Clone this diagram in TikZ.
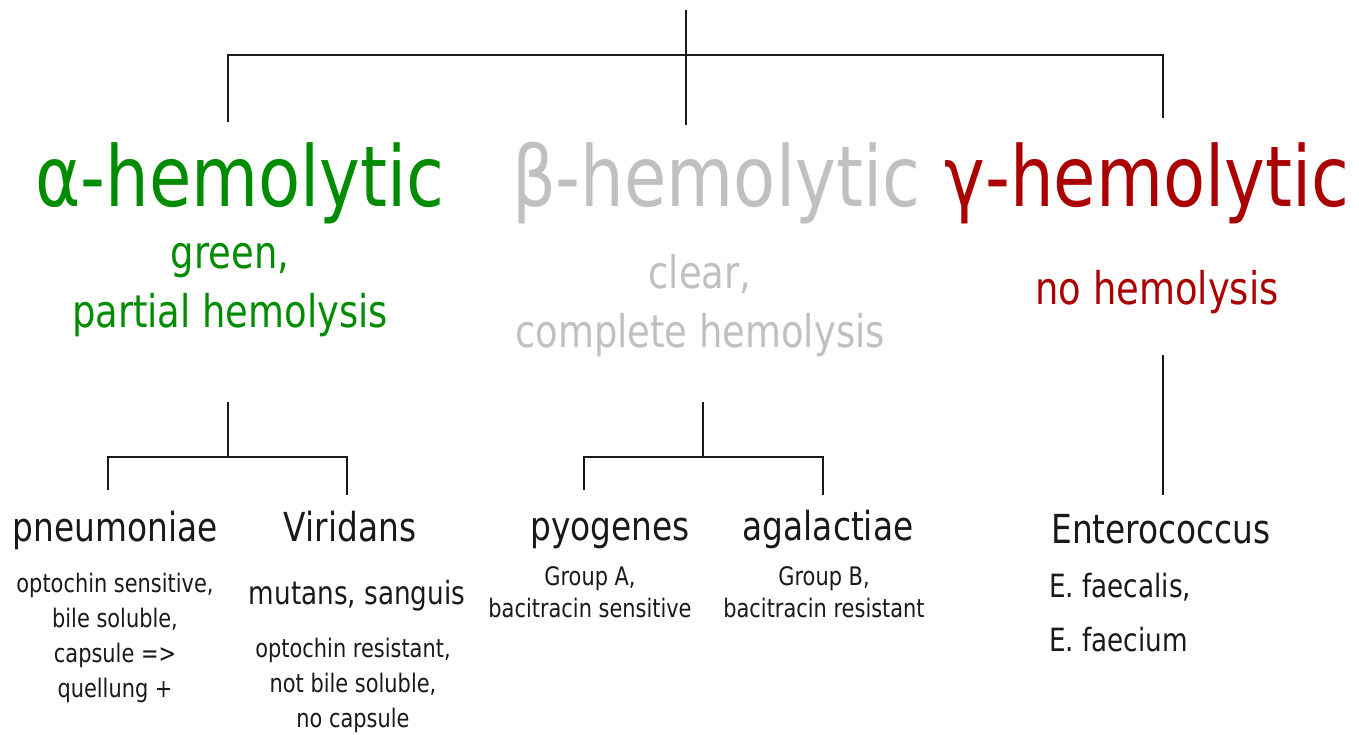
\documentclass[tikz,border=0pt]{standalone}
\usepackage{fontspec}
\setmainfont{DejaVu Sans}[FakeStretch=0.82]
\usepackage{xcolor}
\definecolor{alphagreen}{RGB}{0,140,0}
\definecolor{betagray}{RGB}{192,192,192}
\definecolor{gammared}{RGB}{170,0,0}
\definecolor{ink}{RGB}{25,25,25}

\tikzset{
  heading/.style={anchor=base, inner sep=0pt, font=\fontsize{84}{100}\selectfont},
  subhead/.style={anchor=base, inner sep=0pt, align=center, font=\fontsize{45}{59}\selectfont},
  species/.style={anchor=base, inner sep=0pt, text=ink, font=\fontsize{40}{48}\selectfont},
  detail/.style={anchor=base, inner sep=0pt, align=center, text=ink, font=\fontsize{25.5}{35}\selectfont},
  kinds/.style={anchor=base, inner sep=0pt, align=center, text=ink, font=\fontsize{32}{54}\selectfont},
  branch/.style={draw=ink, line width=2.6pt}
}

\begin{document}
\begin{tikzpicture}[x=1pt, y=-1pt]
  \useasboundingbox (0,0) rectangle (1359,735);

  % headings
  \node[heading, text=alphagreen] (alpha) at (240,207) {α-hemolytic};
  \node[heading, text=betagray] (beta) at (716,207) {β-hemolytic};
  \node[heading, text=gammared] (gamma) at (1147,207) {γ-hemolytic};

  % what the plate looks like (base = last line)
  \node[subhead, text=alphagreen] (alpha sub) at (230,327) {green,\\partial hemolysis};
  \node[subhead, text=betagray] (beta sub) at (700,347) {clear,\\complete hemolysis};
  \node[subhead, text=gammared] (gamma sub) at (1157,304) {no hemolysis};

  % species
  \node[species] (pneu) at (115,541) {pneumoniae};
  \node[species] (viri) at (350,541) {Viridans};
  \node[species] (pyo) at (610,540) {pyogenes};
  \node[species] (agal) at (828,540) {agalactiae};
  \node[species] (entero) at (1161,543) {Enterococcus};

  % details
  \node[detail] (pneu info) at (115,697) {optochin sensitive,\\bile soluble,\\capsule =>\\quellung +};
  \node[kinds] (viri kinds) at (357,604) {mutans, sanguis};
  \node[detail] (viri info) at (353,727) {optochin resistant,\\not bile soluble,\\no capsule};
  \node[detail, font=\fontsize{25.5}{32}\selectfont] (pyo info) at (590,617) {Group A,\\bacitracin sensitive};
  \node[detail, font=\fontsize{25.5}{32}\selectfont] (agal info) at (824,617) {Group B,\\bacitracin resistant};
  \node[kinds, align=left, anchor=base west] (entero kinds) at (1049,651) {E. faecalis,\\E. faecium};

  % top bracket
  \coordinate (root) at (686,10);
  \coordinate (root end) at (686,125);
  \coordinate (hub) at (686,55);
  \coordinate (alpha top) at (228,122);
  \coordinate (gamma top) at (1163,118);
  \draw[branch] (root) -- (root end);
  \draw[branch] (alpha top) |- (hub) -| (gamma top);

  % alpha bracket
  \coordinate (alpha stem) at (228,402);
  \coordinate (alpha hub) at (228,457);
  \coordinate (pneu top) at (108,490);
  \coordinate (viri top) at (347,495);
  \draw[branch] (alpha stem) -- (alpha hub);
  \draw[branch] (pneu top) |- (alpha hub) -| (viri top);

  % beta bracket
  \coordinate (beta stem) at (703,402);
  \coordinate (beta hub) at (703,457);
  \coordinate (pyo top) at (584,490);
  \coordinate (agal top) at (823,495);
  \draw[branch] (beta stem) -- (beta hub);
  \draw[branch] (pyo top) |- (beta hub) -| (agal top);

  % gamma line
  \coordinate (gamma stem) at (1163,355);
  \coordinate (entero top) at (1163,495);
  \draw[branch] (gamma stem) -- (entero top);
\end{tikzpicture}
\end{document}
